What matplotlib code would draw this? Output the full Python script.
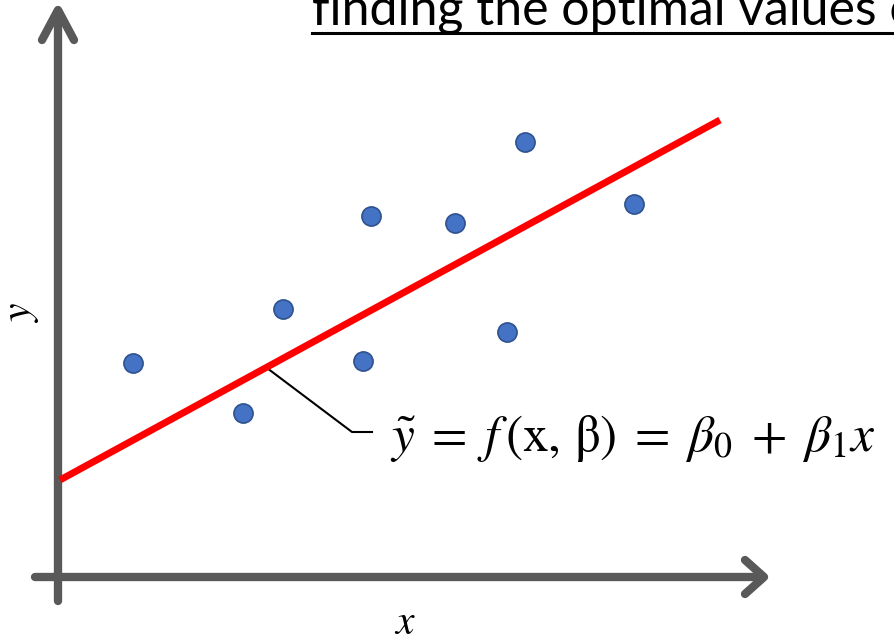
import matplotlib.pyplot as plt

plt.rcParams['mathtext.fontset'] = 'stix'

# sample points (screen-like coordinates, y grows downward)
px = [133, 243, 283, 371, 363, 455, 507, 525, 634]
py = [363, 413, 309, 216, 361, 223, 332, 142, 204]

# fitted line end points
line_x = [60, 720]
line_y = [480, 120]

axis_col = '#595959'

fig = plt.figure(figsize=(8.94, 6.43), dpi=100)
ax = fig.add_axes([0, 0, 1, 1])
ax.set_xlim(0, 894)
ax.set_ylim(643, 0)
ax.axis('off')

# axes with arrow heads
kw = dict(color=axis_col, lw=6, solid_capstyle='round', solid_joinstyle='round')
ax.plot([58, 58], [601, 12], **kw)
ax.plot([42, 58, 74], [40, 10, 40], **kw)
ax.plot([35, 762], [577, 577], **kw)
ax.plot([745, 764, 745], [560, 577, 594], **kw)

ax.plot(line_x, line_y, color='#ff0000', lw=5, solid_capstyle='butt', zorder=3)
ax.scatter(px, py, s=190, color='#4472c4', edgecolor='#2f528f', linewidth=1.2, zorder=4)

# leader to the equation
ax.plot([267, 352, 372], [368, 432, 432], color='black', lw=1.5, zorder=2)
ax.text(390, 438,
        r'$\tilde{y}\;=\;f\,(\mathrm{x},\,\mathrm{\beta})\;=\;\beta_0\;+\;\beta_1 x$',
        fontsize=37, va='center', ha='left')

ax.text(405, 622, r'$x$', fontsize=30, ha='center', va='center')
ax.text(20, 313, r'$y$', fontsize=30, ha='center', va='center', rotation=90)

ax.text(312, 25, 'finding the optimal values of', fontsize=36, family='Lato',
        ha='left', va='baseline')
ax.plot([312, 894], [33, 33], color='black', lw=2.2)

fig.savefig('out.png', dpi=100)
